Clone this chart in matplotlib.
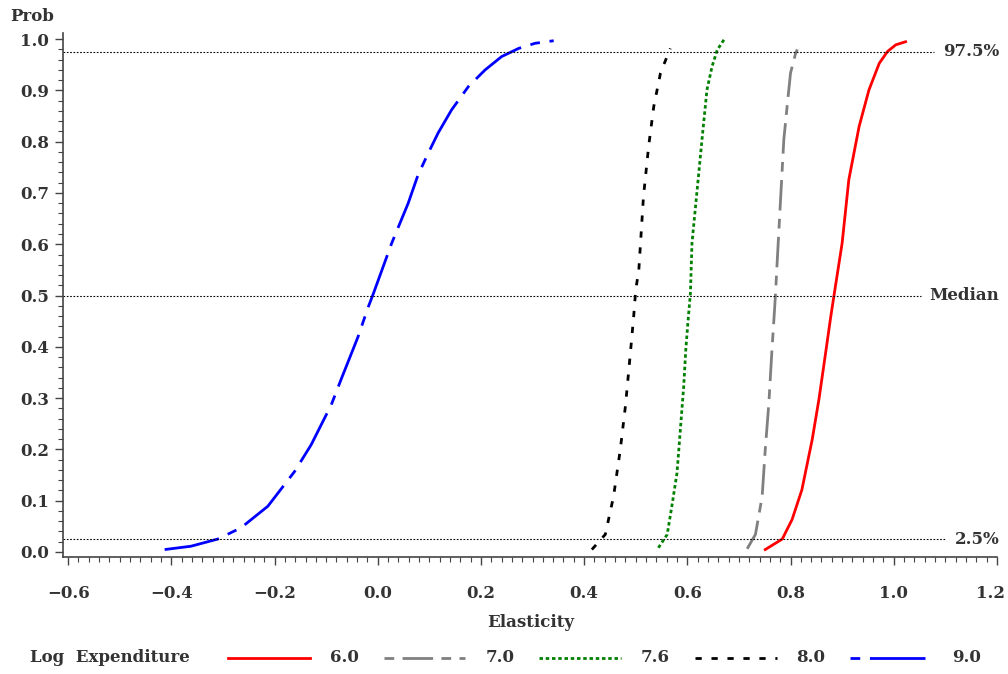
import matplotlib
matplotlib.use("Agg")
import matplotlib.pyplot as plt
from matplotlib.lines import Line2D
from matplotlib.ticker import MultipleLocator
from matplotlib.transforms import ScaledTranslation

plt.rcParams['font.family'] = ['DejaVu Serif']
plt.rcParams['font.weight'] = 'bold'
plt.rcParams['lines.scale_dashes'] = False

# CDFs of elasticity estimates
prob_60 = [0.0045, 0.025, 0.063, 0.121, 0.219, 0.297, 0.388, 0.459, 0.505, 0.602,
           0.726, 0.830, 0.901, 0.953, 0.976, 0.989, 0.995]
elas_60 = [0.751, 0.784, 0.803, 0.822, 0.842, 0.855, 0.868, 0.878, 0.885, 0.900,
           0.913, 0.933, 0.952, 0.972, 0.988, 1.004, 1.023]

prob_70 = [0.006, 0.034, 0.108, 0.199, 0.290, 0.394, 0.472, 0.505, 0.563, 0.693,
           0.804, 0.875, 0.934, 0.973, 0.986]
elas_70 = [0.716, 0.732, 0.745, 0.751, 0.758, 0.764, 0.769, 0.771, 0.774, 0.781,
           0.787, 0.794, 0.800, 0.810, 0.816]

prob_76 = [0.008, 0.034, 0.089, 0.154, 0.232, 0.323, 0.394, 0.446, 0.505, 0.602,
           0.706, 0.810, 0.901, 0.947, 0.979, 0.999]
elas_76 = [0.544, 0.561, 0.570, 0.580, 0.586, 0.593, 0.597, 0.601, 0.606, 0.609,
           0.619, 0.629, 0.638, 0.648, 0.658, 0.671]

prob_80 = [0.0045, 0.034, 0.108, 0.199, 0.284, 0.381, 0.459, 0.511, 0.550, 0.693,
           0.791, 0.869, 0.934, 0.982]
elas_80 = [0.415, 0.441, 0.457, 0.470, 0.480, 0.489, 0.496, 0.500, 0.506, 0.515,
           0.525, 0.535, 0.548, 0.567]

prob_90 = [0.0045, 0.011, 0.025, 0.047, 0.089, 0.157, 0.209, 0.287, 0.339, 0.420,
           0.476, 0.505, 0.602, 0.680, 0.735, 0.778, 0.817, 0.862, 0.908, 0.940,
           0.966, 0.982, 0.992, 0.997]
elas_90 = [-0.413, -0.362, -0.310, -0.265, -0.213, -0.161, -0.129, -0.090, -0.070, -0.038,
           -0.019, -0.008, 0.027, 0.059, 0.078, 0.098, 0.117, 0.143, 0.176, 0.208,
           0.240, 0.273, 0.305, 0.341]

series_labels = ['6.0', '7.0', '7.6', '8.0', '9.0']
ref_levels = [0.975, 0.5, 0.025]
ref_labels = ['97.5%', 'Median', '2.5%']

colors = ['#ff0000', '#808080', '#008000', '#000000', '#0000ff']
dashes = ['-', (0, (22, 6, 7, 6)), (0, (2.5, 2)), (0, (4.5, 7)), (0, (40, 7, 7, 7))]
# legend samples start with a short dash, as in the original
legend_dashes = ['-', (28, (22, 6, 7, 6)), (0, (2.5, 2)), (0, (4.5, 7)), (47, (40, 7, 7, 7))]
curves = [(elas_60, prob_60), (elas_70, prob_70), (elas_76, prob_76),
          (elas_80, prob_80), (elas_90, prob_90)]

text_color = '#333333'

fig = plt.figure(figsize=(10.08, 6.74), dpi=100)
ax = fig.add_axes([0.0625, 0.1736, 0.9265, 0.7774])

for (x, y), c, ls in zip(curves, colors, dashes):
    ax.plot(x, y, linewidth=2, color=c, linestyle=ls)

ref_ends = [1.079, 1.052, 1.100]
for lev, lab, xe in zip(ref_levels, ref_labels, ref_ends):
    ax.plot([-0.61, xe], [lev, lev], color='black', linewidth=0.8,
            linestyle=(0, (1.2, 1.2)), clip_on=False)
    ax.text(1.205, lev, lab, ha='right', va='center', fontsize=12,
            color=text_color, clip_on=False)

ax.set_xlim(-0.61, 1.2)
ax.set_ylim(-0.01, 1.012)
ax.xaxis.set_major_locator(MultipleLocator(0.2))
ax.xaxis.set_minor_locator(MultipleLocator(0.02))
ax.yaxis.set_major_locator(MultipleLocator(0.1))
ax.yaxis.set_minor_locator(MultipleLocator(0.02))
ax.xaxis.set_major_formatter(plt.FuncFormatter(lambda v, p: f"{v:.1f}".replace('-', '\u2212')))
ax.yaxis.set_major_formatter(plt.FuncFormatter(lambda v, p: f"{v:.1f}"))

for s in ['top', 'right']:
    ax.spines[s].set_visible(False)
for s in ['left', 'bottom']:
    ax.spines[s].set_color('#444444')
    ax.spines[s].set_linewidth(1.2)

ax.tick_params(which='major', length=6, width=1, colors='#444444',
               labelsize=12, labelcolor=text_color, pad=4)
ax.tick_params(which='minor', length=3.5, width=0.8, colors='#444444')
ax.tick_params(axis='x', which='major', pad=14)

fig.canvas.draw()
xlabels = ax.get_xticklabels()
for lab in xlabels + ax.get_yticklabels():
    lab.set_fontweight('bold')
# keep the last x label inside the canvas
shift = ScaledTranslation(-6 / 100, 0, fig.dpi_scale_trans)
for lab in xlabels:
    if lab.get_text() == '1.2':
        lab.set_transform(lab.get_transform() + shift)

fig.text(0.01, 0.975, 'Prob', fontsize=12, color=text_color, ha='left', va='center')
fig.text(0.526, 0.077, 'Elasticity', fontsize=12, color=text_color, ha='center', va='center')

# legend row
leg_y = 0.024
fig.text(0.03, leg_y, 'Log  Expenditure', fontsize=12, color=text_color,
         ha='left', va='center')
for i, (lab, c, ls) in enumerate(zip(series_labels, colors, legend_dashes)):
    x0 = (228 + i * 155.5) / 1008
    x1 = x0 + 82 / 1008
    fig.add_artist(Line2D([x0, x1], [leg_y, leg_y], linewidth=2, color=c,
                          linestyle=ls, transform=fig.transFigure))
    fig.text(x1 + 20 / 1008, leg_y, lab, fontsize=12, color=text_color,
             ha='left', va='center')

fig.savefig('out.png', dpi=100)
